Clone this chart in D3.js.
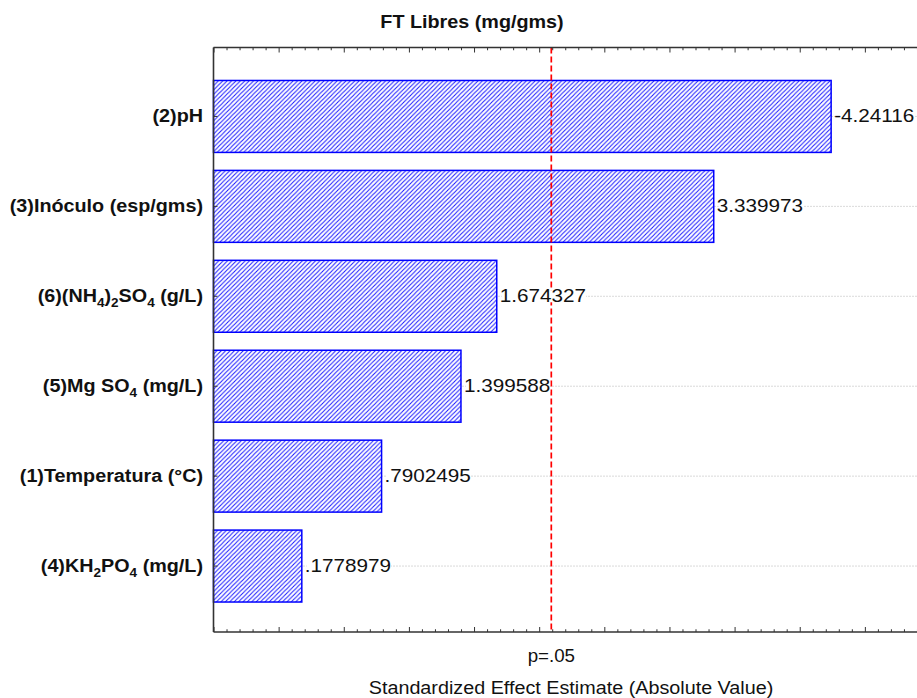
<!DOCTYPE html>
<html>
<head>
<meta charset="utf-8">
<script src="https://cdn.jsdelivr.net/npm/d3@7"></script>
<style>
  html, body { margin: 0; padding: 0; background: #fff; }
  svg { display: block; }
  text { font-family: "Liberation Sans", Arial, sans-serif; fill: #111; }
</style>
</head>
<body>
<svg id="chart" width="917" height="698"></svg>
<script>
// Pareto chart of standardized effects
const title = "FT Libres (mg/gms)";
const xTitle = "Standardized Effect Estimate (Absolute Value)";
const pLabel = "p=.05";
const pCritical = 2.093;

// factor names: [text, isSubscript] pieces
const factors = [
  [["(2)pH", false]],
  [["(3)Inóculo (esp/gms)", false]],
  [["(6)(NH", false], ["4", true], [")", false], ["2", true], ["SO", false], ["4", true], [" (g/L)", false]],
  [["(5)Mg SO", false], ["4", true], [" (mg/L)", false]],
  [["(1)Temperatura (°C)", false]],
  [["(4)KH", false], ["2", true], ["PO", false], ["4", true], [" (mg/L)", false]]
];
const effects = [-4.24116, 3.339973, 1.674327, 1.399588, 0.7902495, 0.1778979];

const xDomain = [-0.5, 5.0];
const xMajorStep = 0.5;
const xMinorStep = 0.1;

const svg = d3.select("#chart");
const plot = { left: 213.5, top: 47.5, bottom: 632 };
const stretch = 1.13;   // horizontal text stretch

const x = d3.scaleLinear().domain(xDomain).range([plot.left, 930]);
const idx = d3.range(factors.length);
const y = d3.scaleBand().domain(idx).range([plot.top + 1.5, plot.bottom + 1.5])
  .paddingInner(0.2).paddingOuter(0.35);

// hatch pattern
const defs = svg.append("defs");
const pat = defs.append("pattern")
  .attr("id", "hatch").attr("patternUnits", "userSpaceOnUse")
  .attr("width", 4.4).attr("height", 4.4);
pat.append("rect").attr("width", 4.4).attr("height", 4.4).attr("fill", "#fff");
pat.append("path")
  .attr("d", "M-1.1,1.1 L1.1,-1.1 M0,4.4 L4.4,0 M3.3,5.5 L5.5,3.3")
  .attr("stroke", "#1a1aff").attr("stroke-width", 1.05);

// stretched text helper
function stext(g, px, py, anchor, sx = stretch) {
  return g.append("text")
    .attr("transform", `translate(${px},${py}) scale(${sx},1)`)
    .attr("text-anchor", anchor);
}

// horizontal dotted guide lines at each factor
svg.append("g").selectAll("line").data(idx).join("line")
  .attr("x1", plot.left).attr("x2", 917)
  .attr("y1", d => y(d) + y.bandwidth() / 2)
  .attr("y2", d => y(d) + y.bandwidth() / 2)
  .attr("stroke", "#b4b4b4").attr("stroke-width", 1)
  .attr("stroke-dasharray", "1,2");

// bars
svg.append("g").selectAll("rect").data(idx).join("rect")
  .attr("x", x(xDomain[0]))
  .attr("y", d => y(d))
  .attr("width", d => x(Math.abs(effects[d])) - x(xDomain[0]))
  .attr("height", y.bandwidth())
  .attr("fill", "url(#hatch)")
  .attr("stroke", "#0000ff").attr("stroke-width", 1.5);

// critical value line
svg.append("line")
  .attr("x1", x(pCritical)).attr("x2", x(pCritical))
  .attr("y1", plot.top).attr("y2", plot.bottom)
  .attr("stroke", "#ff0000").attr("stroke-width", 1.7)
  .attr("stroke-dasharray", "6,3");

// value labels
const fmt = v => String(v).replace(/^(-?)0\./, "$1.");
const vl = svg.append("g");
idx.forEach(i => {
  const cx = x(Math.abs(effects[i])) + 3;
  const cy = y(i) + y.bandwidth() / 2;
  const t = stext(vl, cx, cy + 6, "start", 1.15)
    .style("font-size", "18px").text(fmt(effects[i]));
  const w = t.node().getComputedTextLength() * 1.15;
  vl.insert("rect", "text")
    .attr("x", cx + 2).attr("y", cy - 6).attr("width", w - 2).attr("height", 12)
    .attr("fill", "#fff");
});

// axes: ticks inside plot
const majors = d3.range(xDomain[0], xDomain[1] + 1e-9, xMajorStep);
const minors = d3.range(xDomain[0], xDomain[1] + 1e-9, xMinorStep)
  .filter(v => Math.abs(v / xMajorStep - Math.round(v / xMajorStep)) > 1e-6);

function xAxis(gen, yPos, len) {
  const gM = svg.append("g").attr("transform", `translate(0,${yPos})`)
    .call(gen(x).tickValues(majors).tickSize(len).tickFormat(""));
  const gm = svg.append("g").attr("transform", `translate(0,${yPos})`)
    .call(gen(x).tickValues(minors).tickSize(len * 0.55).tickFormat(""));
  [gM, gm].forEach(g => {
    g.select(".domain").remove();
    g.selectAll("line").attr("stroke", "#333");
  });
}
xAxis(d3.axisTop, plot.top, -5);
xAxis(d3.axisBottom, plot.bottom, -5);

const yAx = svg.append("g").attr("transform", `translate(${plot.left},0)`)
  .call(d3.axisLeft(y).tickSize(-4).tickFormat(""));
yAx.select(".domain").remove();
yAx.selectAll("line").attr("stroke", "#333");

// frame lines
const frame = svg.append("g").attr("stroke", "#333").attr("stroke-width", 1.6);
frame.append("line").attr("x1", plot.left).attr("x2", 917).attr("y1", plot.top).attr("y2", plot.top);
frame.append("line").attr("x1", plot.left).attr("x2", 917).attr("y1", plot.bottom).attr("y2", plot.bottom);
frame.append("line").attr("x1", plot.left).attr("x2", plot.left).attr("y1", plot.top).attr("y2", plot.bottom);

// category labels
const cl = svg.append("g");
idx.forEach(i => {
  const t = stext(cl, 203, y(i) + y.bandwidth() / 2 + 6, "end")
    .style("font-size", "17.5px").style("font-weight", "bold");
  factors[i].forEach(([s, sub], k) => {
    const prevSub = k > 0 && factors[i][k - 1][1];
    const ts = t.append("tspan").text(s);
    if (sub) ts.style("font-size", "12px").attr("dy", prevSub ? 0 : 4.5);
    else if (prevSub) ts.attr("dy", -4.5);
  });
});

// titles
stext(svg, 472, 28, "middle").style("font-size", "17.5px").style("font-weight", "bold").text(title);
stext(svg, x(pCritical), 662, "middle", 1.07).style("font-size", "17.5px").text(pLabel);
stext(svg, 571, 694, "middle").style("font-size", "17.5px").text(xTitle);
</script>
</body>
</html>
